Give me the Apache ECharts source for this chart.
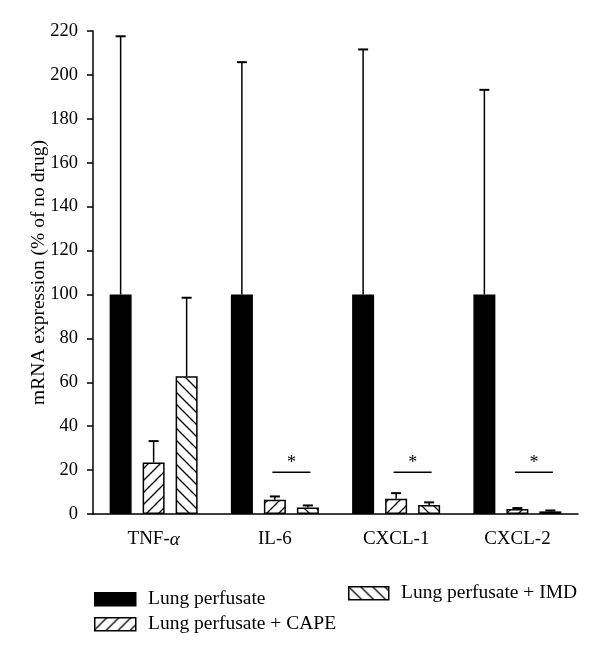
<!DOCTYPE html>
<html>
<head>
<meta charset="utf-8">
<script src="https://cdn.jsdelivr.net/npm/echarts@6/dist/echarts.min.js"></script>
<style>
html,body{margin:0;padding:0;background:#fff;}
#chart{width:600px;height:658px;}
</style>
</head>
<body>
<div id="chart"></div>
<script>
// ---- data ----
const categories = ['TNF-α', 'IL-6', 'CXCL-1', 'CXCL-2'];
const seriesNames = ['Lung perfusate', 'Lung perfusate + CAPE', 'Lung perfusate + IMD'];
const lungMean = [100, 100, 100, 100];
const lungSD   = [117.6, 105.8, 111.6, 93.2];
const capeMean = [23.5, 6.5, 7.0, 2.3];
const capeSD   = [9.7, 1.5, 2.5, 0.4];
const imdMean  = [62.8, 3.0, 4.1, 1.2];
const imdSD    = [35.7, 0.9, 1.2, 0.4];
const sigCategories = [1, 2, 3];
const sigLineValue = 19;
const yTicks = [0, 20, 40, 60, 80, 100, 120, 140, 160, 180, 200, 220];

// ---- styles ----
const FONT = 'Liberation Serif';
function hatch(dir) {
  const s = 12;
  const c = document.createElement('canvas');
  c.width = s; c.height = s;
  const g = c.getContext('2d');
  g.fillStyle = '#fff'; g.fillRect(0, 0, s, s);
  g.strokeStyle = '#000'; g.lineWidth = 1.3;
  g.beginPath();
  if (dir === '/') {
    g.moveTo(-2, s + 2); g.lineTo(s + 2, -2);
    g.moveTo(-2, 2); g.lineTo(2, -2);
    g.moveTo(s - 2, s + 2); g.lineTo(s + 2, s - 2);
  } else {
    g.moveTo(-2, -2); g.lineTo(s + 2, s + 2);
    g.moveTo(s - 2, -2); g.lineTo(s + 2, 2);
    g.moveTo(-2, s - 2); g.lineTo(2, s + 2);
  }
  g.stroke();
  return { image: c, repeat: 'repeat' };
}
const fills = ['#000', hatch('/'), hatch('\\')];
const BAR_W = 22, BAR_STEP = 33;

const chart = echarts.init(document.getElementById('chart'), null, { renderer: 'canvas' });

const means = [lungMean, capeMean, imdMean];
const sds = [lungSD, capeSD, imdSD];

const barSeries = means.map((m, i) => ({
  name: seriesNames[i],
  type: 'bar',
  data: m,
  barWidth: BAR_W,
  barGap: '50%',
  itemStyle: { color: fills[i], borderColor: '#000', borderWidth: 1.5 },
  z: 2,
  animation: false
}));

const errSeries = means.map((m, i) => ({
  type: 'custom',
  data: m.map((v, k) => [k, v, sds[i][k]]),
  z: 5,
  silent: true,
  animation: false,
  renderItem: function (params, api) {
    const ci = api.value(0), mean = api.value(1), sd = api.value(2);
    const p0 = api.coord([ci, mean]);
    const p1 = api.coord([ci, mean + sd]);
    const x = p0[0] + (i - 1) * BAR_STEP;
    return {
      type: 'group',
      children: [
        { type: 'line', shape: { x1: x, y1: p0[1], x2: x, y2: p1[1] }, style: { stroke: '#000', lineWidth: 1.5 } },
        { type: 'line', shape: { x1: x - 5, y1: p1[1], x2: x + 5, y2: p1[1] }, style: { stroke: '#000', lineWidth: 2 } }
      ]
    };
  }
}));

const sigSeries = {
  type: 'custom',
  data: sigCategories.map(c => [c, sigLineValue]),
  z: 5,
  silent: true,
  animation: false,
  renderItem: function (params, api) {
    const p = api.coord([api.value(0), api.value(1)]);
    const x1 = p[0] - 2.5, x2 = p[0] + BAR_STEP + 2.5;
    return {
      type: 'group',
      children: [
        { type: 'line', shape: { x1: x1, y1: p[1], x2: x2, y2: p[1] }, style: { stroke: '#000', lineWidth: 1.5 } },
        { type: 'text', x: (x1 + x2) / 2, y: p[1] - 9, style: { text: '*', fontFamily: FONT, fontSize: 18, fill: '#000', align: 'center', verticalAlign: 'middle' } }
      ]
    };
  }
};

// legend built from graphic elements
const LEG_FS = 19.5;
const legendItems = [
  { x: 94, y: 592, w: 41, h: 13, fill: fills[0], text: seriesNames[0], ty: 598.5 },
  { x: 94, y: 617, w: 41, h: 13, fill: fills[1], text: seriesNames[1], ty: 623.5 },
  { x: 348, y: 586, w: 40, h: 13, fill: fills[2], text: seriesNames[2], ty: 593 }
];
const graphics = [];
legendItems.forEach(it => {
  graphics.push({ type: 'rect', left: it.x, top: it.y, shape: { width: it.w, height: it.h },
    style: { fill: it.fill, stroke: '#000', lineWidth: 1.5 } });
  graphics.push({ type: 'text', x: it.x + it.w + 13, y: it.ty,
    style: { text: it.text, fontFamily: FONT, fontSize: LEG_FS, fill: '#000', verticalAlign: 'middle', align: 'left' } });
});

chart.setOption({
  backgroundColor: '#fff',
  animation: false,
  textStyle: { fontFamily: FONT },
  grid: { left: 93, right: 22, top: 31, bottom: 144, containLabel: false },
  xAxis: {
    type: 'category',
    data: categories,
    axisLine: { lineStyle: { color: '#000', width: 1.5 } },
    axisTick: { alignWithLabel: true, length: 9, lineStyle: { color: '#000', width: 1.5 } },
    axisLabel: {
      margin: 16, color: '#000', fontFamily: FONT, fontSize: 19,
      formatter: function (v) { return v.indexOf('α') >= 0 ? v.replace('α', '{a|α}') : v; },
      rich: { a: { fontStyle: 'italic', fontFamily: FONT, fontSize: 19, color: '#000' } }
    },
    splitLine: { show: false }
  },
  yAxis: {
    type: 'value',
    min: yTicks[0],
    max: yTicks[yTicks.length - 1],
    interval: yTicks[1] - yTicks[0],
    name: 'mRNA expression (% of no drug)',
    nameLocation: 'middle',
    nameGap: 44,
    nameMoveOverlap: false,
    nameTextStyle: { fontFamily: FONT, fontSize: 19.5, color: '#000' },
    axisLine: { show: true, lineStyle: { color: '#000', width: 1.5 } },
    axisTick: { show: true, length: 6, lineStyle: { color: '#000', width: 1.5 } },
    axisLabel: { margin: 15, color: '#000', fontFamily: FONT, fontSize: 18.5 },
    splitLine: { show: false }
  },
  series: barSeries.concat(errSeries, [sigSeries]),
  graphic: graphics
});
</script>
</body>
</html>
